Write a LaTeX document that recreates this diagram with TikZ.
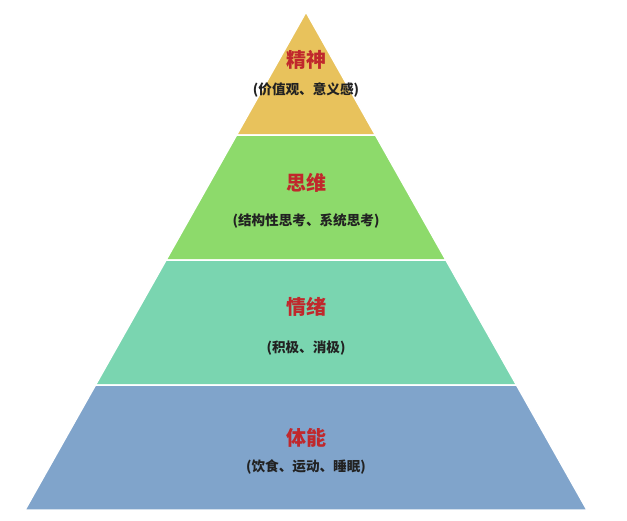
\documentclass[tikz,border=0pt]{standalone}
\usepackage{fontspec}
\newfontfamily\cjk{Noto Sans CJK SC}
\definecolor{jingshenC}{HTML}{E8C25C}
\definecolor{siweiC}{HTML}{8DDA6B}
\definecolor{qingxuC}{HTML}{7AD5B0}
\definecolor{tinengC}{HTML}{80A4CB}
\definecolor{titleRed}{HTML}{C0282C}
\definecolor{subDark}{HTML}{222222}
\tikzset{
  layer/.style={draw=white,line width=1.5pt,line join=miter},
  title/.style={font=\cjk\bfseries\fontsize{20}{24}\selectfont,text=titleRed},
  sub/.style={font=\cjk\bfseries\fontsize{13.6}{16}\selectfont,text=subDark},
}

\begin{document}
\begin{tikzpicture}[x=1pt,y=-1pt]
  \useasboundingbox[fill=white](0,0)rectangle(627,520);
  % layers: top y / half width / bottom y / half width
  \foreach \ya/\da/\yb/\db/\c in {
    12/0/135/69.4/jingshenC,
    135/69.4/260/139.9/siweiC,
    260/139.9/385/210.5/qingxuC,
    385/210.5/510/281/tinengC}
  {
    \draw[layer,fill=\c]({306-\da},\ya)--({306+\da},\ya)--({306+\db},\yb)--({306-\db},\yb)--cycle;
  }
  \node[title] (jingshen) at (306,60) {精神};
  \node[sub] (jingshenSub) at (306,90) {(价值观、意义感)};
  \node[title] (siwei) at (306,183) {思维};
  \node[sub] (siweiSub) at (306,221) {(结构性思考、系统思考)};
  \node[title] (qingxu) at (306,307) {情绪};
  \node[sub] (qingxuSub) at (306,348) {(积极、消极)};
  \node[title] (tineng) at (306,438) {体能};
  \node[sub] (tinengSub) at (306,467) {(饮食、运动、睡眠)};
\end{tikzpicture}
\end{document}
